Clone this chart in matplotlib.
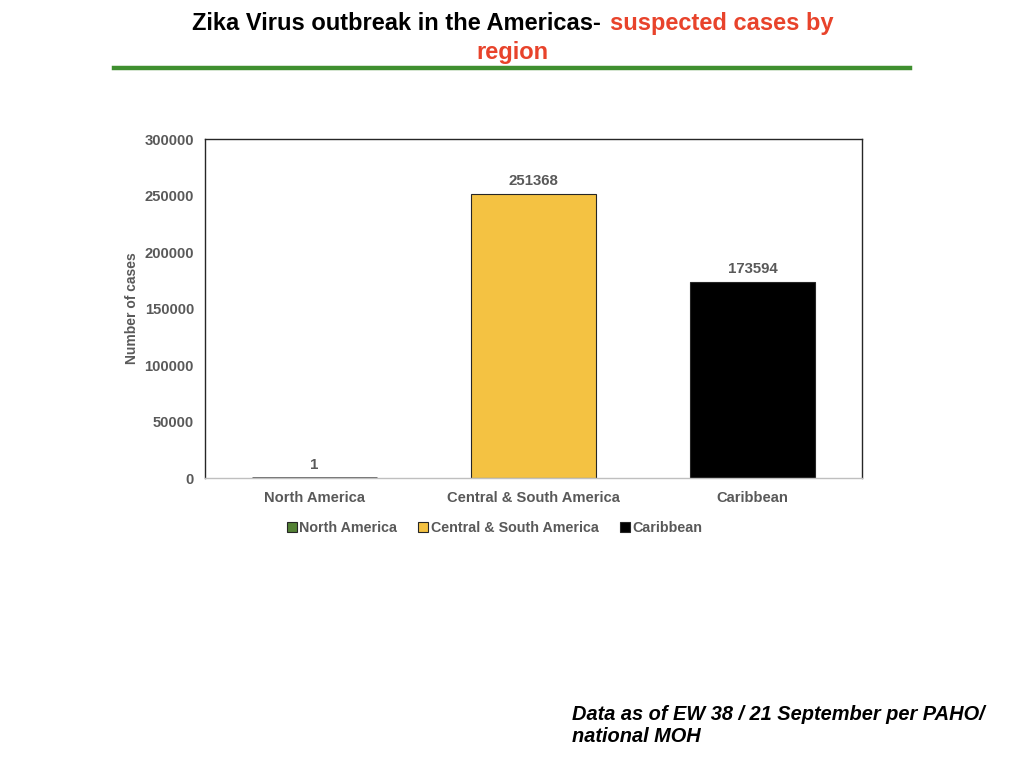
import matplotlib
matplotlib.use('Agg')
from matplotlib import pyplot as plt
from matplotlib.patches import Patch
from matplotlib.lines import Line2D

# Data
regions = ['North America', 'Central & South America', 'Caribbean']
cases = [1, 251368, 173594]
bar_colors = ['#548235', '#F4C242', '#000000']
yticks = [0, 50000, 100000, 150000, 200000, 250000, 300000]

plt.rcParams['font.family'] = ['Liberation Sans', 'DejaVu Sans']
gray = '#595959'

fig = plt.figure(figsize=(10.24, 7.68), dpi=100)
ax = fig.add_axes([0.2002, 0.3776, 0.6416, 0.4414])

x = range(len(regions))
bars = ax.bar(x, cases, width=0.575, color=bar_colors, edgecolor='#262626', linewidth=0.8)
bars[0].set_edgecolor('#595959')
bars[0].set_linewidth(2)

for xi, v in zip(x, cases):
    ax.text(xi, v + 5000, str(v), ha='center', va='bottom',
            fontsize=10.8, fontweight='bold', color=gray)

ax.set_xlim(-0.5, 2.5)
ax.set_ylim(0, 300000)
ax.set_yticks(yticks)
ax.set_yticklabels([str(t) for t in yticks])
ax.set_xticks(list(x))
ax.set_xticklabels(regions)
ax.tick_params(length=0, labelsize=10.6, labelcolor=gray)
ax.tick_params(axis='y', pad=8)
ax.tick_params(axis='x', pad=9)
for lab in ax.get_xticklabels() + ax.get_yticklabels():
    lab.set_fontweight('bold')
for s in ax.spines.values():
    s.set_color('#262626')
    s.set_linewidth(1)
ax.spines['bottom'].set_color('#bfbfbf')
ax.set_ylabel('Number of cases', fontsize=10, fontweight='bold', color=gray, labelpad=4)

handles = [Patch(facecolor=c, edgecolor='#262626', linewidth=0.8) for c in bar_colors]
fig.legend(handles, regions, loc='center', bbox_to_anchor=(0.483, 0.313), ncol=3,
           frameon=False, handlelength=0.7, handleheight=0.7, handletextpad=0.2,
           columnspacing=1.45, prop={'size': 10.3, 'weight': 'bold'}, labelcolor=gray)

# Title, black part then red part
fig.text(0.587, 0.969, 'Zika Virus outbreak in the Americas-', ha='right', va='center',
         fontsize=17, fontweight='bold', color='black')
fig.text(0.596, 0.969, 'suspected cases by', ha='left', va='center',
         fontsize=17, fontweight='bold', color='#E8432B')
fig.text(0.5, 0.931, 'region', ha='center', va='center',
         fontsize=17, fontweight='bold', color='#E8432B')
fig.add_artist(Line2D([0.111, 0.889], [0.911, 0.911], color='#3F8F2F', linewidth=3.2))

fig.text(0.559, 0.0556, 'Data as of EW 38 / 21 September per PAHO/\nnational MOH',
         ha='left', va='center', fontsize=14.4, fontweight='bold', style='italic',
         color='black', linespacing=1.2)

fig.savefig('out.png', dpi=100)
